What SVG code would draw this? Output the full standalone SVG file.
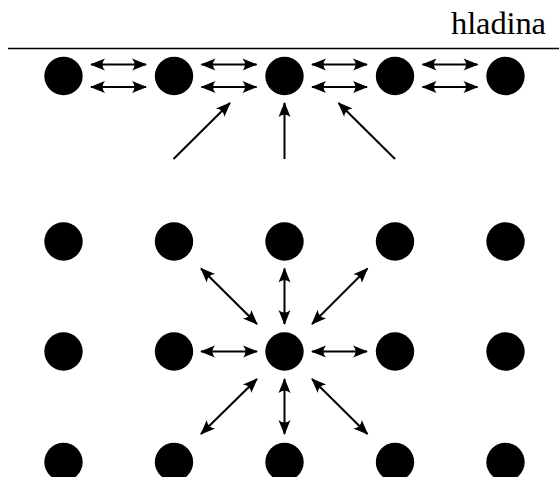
<svg xmlns="http://www.w3.org/2000/svg" width="559" height="477" viewBox="0 0 559 477">
<style>
.atom{fill:#000}
.c{stroke:#000;stroke-width:2;fill:none}
.d{marker-start:url(#ah);marker-end:url(#ah)}
.s{marker-end:url(#ah)}
.lbl{font-family:"Liberation Serif","DejaVu Serif",serif;font-size:32.5px;fill:#000}
</style>
<defs>
<marker id="ah" markerUnits="userSpaceOnUse" markerWidth="15" markerHeight="12" refX="14" refY="6" orient="auto-start-reverse" overflow="visible">
<path d="M15,6 L0,0 Q5,6 0,12 Z" fill="#000"/>
</marker>
</defs>
<rect width="559" height="477" fill="#fff"/>
<g id="surface">
<line x1="8" y1="48.5" x2="559" y2="48.5" stroke="#000" stroke-width="1.4"/>
<text class="lbl" x="546" y="34" text-anchor="end" textLength="95">hladina</text>
</g>
<g id="top-row">
<circle class="atom" cx="63.5" cy="76" r="19.2"/>
<circle class="atom" cx="174" cy="76" r="19.2"/>
<circle class="atom" cx="284.5" cy="76" r="19.2"/>
<circle class="atom" cx="395" cy="76" r="19.2"/>
<circle class="atom" cx="505.5" cy="76" r="19.2"/>
</g>
<g id="row1">
<circle class="atom" cx="63.5" cy="241.5" r="19.2"/>
<circle class="atom" cx="174" cy="241.5" r="19.2"/>
<circle class="atom" cx="284.5" cy="241.5" r="19.2"/>
<circle class="atom" cx="395" cy="241.5" r="19.2"/>
<circle class="atom" cx="505.5" cy="241.5" r="19.2"/>
</g>
<g id="row2">
<circle class="atom" cx="63.5" cy="351.5" r="19.2"/>
<circle class="atom" cx="174" cy="351.5" r="19.2"/>
<circle class="atom" cx="284.5" cy="351.5" r="19.2"/>
<circle class="atom" cx="395" cy="351.5" r="19.2"/>
<circle class="atom" cx="505.5" cy="351.5" r="19.2"/>
</g>
<g id="row3">
<circle class="atom" cx="63.5" cy="462" r="19.2"/>
<circle class="atom" cx="174" cy="462" r="19.2"/>
<circle class="atom" cx="284.5" cy="462" r="19.2"/>
<circle class="atom" cx="395" cy="462" r="19.2"/>
<circle class="atom" cx="505.5" cy="462" r="19.2"/>
</g>
<g id="connectors">
<line class="c d" x1="91" y1="64.5" x2="146" y2="64.5"/>
<line class="c d" x1="91" y1="87" x2="146" y2="87"/>
<line class="c d" x1="201.5" y1="64.5" x2="256.5" y2="64.5"/>
<line class="c d" x1="201.5" y1="87" x2="256.5" y2="87"/>
<line class="c d" x1="312" y1="64.5" x2="367" y2="64.5"/>
<line class="c d" x1="312" y1="87" x2="367" y2="87"/>
<line class="c d" x1="422.5" y1="64.5" x2="477.5" y2="64.5"/>
<line class="c d" x1="422.5" y1="87" x2="477.5" y2="87"/>
<line class="c s" x1="173.5" y1="159" x2="230" y2="103"/>
<line class="c s" x1="284.5" y1="159" x2="284.5" y2="103"/>
<line class="c s" x1="395" y1="159" x2="338.5" y2="103"/>
<line class="c d" x1="284.5" y1="324" x2="284.5" y2="268.5"/>
<line class="c d" x1="284.5" y1="379" x2="284.5" y2="434"/>
<line class="c d" x1="257" y1="351.5" x2="201" y2="351.5"/>
<line class="c d" x1="312" y1="351.5" x2="367" y2="351.5"/>
<line class="c d" x1="257" y1="324" x2="201" y2="268.5"/>
<line class="c d" x1="312" y1="324" x2="367.5" y2="268.5"/>
<line class="c d" x1="257" y1="379" x2="201" y2="434"/>
<line class="c d" x1="312" y1="379" x2="367.5" y2="434"/>
</g>
</svg>
